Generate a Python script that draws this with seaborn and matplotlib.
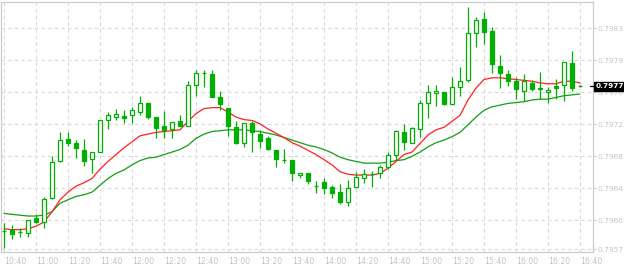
import matplotlib
matplotlib.use("Agg")
import matplotlib.pyplot as plt
import matplotlib.transforms as mtransforms
import seaborn as sns
import numpy as np
import pandas as pd

# ---------------- data (5-minute candles, 10:40 .. 16:40) ----------------
opens = [0.79593, 0.79594, 0.79591, 0.79590, 0.79608, 0.79603, 0.79631, 0.79675, 0.79700, 0.79696,
         0.79687, 0.79677, 0.79685, 0.79723, 0.79726, 0.79727, 0.79728, 0.79732, 0.79743, 0.79726,
         0.79716, 0.79712, 0.79721, 0.79716, 0.79764, 0.79778, 0.79777, 0.79749, 0.79737, 0.79714,
         0.79696, 0.79719, 0.79706, 0.79702, 0.79687, 0.79676, 0.79676, 0.79658, 0.79661, 0.79645,
         0.79650, 0.79644, 0.79638, 0.79626, 0.79644, 0.79655, 0.79659, 0.79660, 0.79667, 0.79681,
         0.79708, 0.79696, 0.79712, 0.79743, 0.79754, 0.79755, 0.79741, 0.79761, 0.79769, 0.79825,
         0.79841, 0.79827, 0.79786, 0.79776, 0.79768, 0.79756, 0.79766, 0.79760, 0.79755, 0.79762,
         0.79763, 0.79789, 0.79762]
highs = [0.79602, 0.79600, 0.79596, 0.79605, 0.79612, 0.79632, 0.79680, 0.79709, 0.79709, 0.79699,
         0.79700, 0.79685, 0.79722, 0.79732, 0.79735, 0.79734, 0.79738, 0.79751, 0.79743, 0.79726,
         0.79733, 0.79720, 0.79728, 0.79768, 0.79781, 0.79781, 0.79781, 0.79757, 0.79737, 0.79721,
         0.79719, 0.79721, 0.79711, 0.79704, 0.79687, 0.79689, 0.79676, 0.79661, 0.79661, 0.79651,
         0.79655, 0.79646, 0.79648, 0.79652, 0.79662, 0.79665, 0.79663, 0.79670, 0.79685, 0.79711,
         0.79718, 0.79714, 0.79746, 0.79764, 0.79764, 0.79755, 0.79773, 0.79785, 0.79855, 0.79843,
         0.79849, 0.79831, 0.79799, 0.79781, 0.79773, 0.79776, 0.79770, 0.79779, 0.79761, 0.79771,
         0.79790, 0.79803, 0.79763]
lows = [0.79572, 0.79583, 0.79586, 0.79585, 0.79602, 0.79596, 0.79630, 0.79673, 0.79692, 0.79678,
        0.79669, 0.79661, 0.79685, 0.79712, 0.79723, 0.79719, 0.79719, 0.79728, 0.79724, 0.79702,
        0.79701, 0.79701, 0.79716, 0.79716, 0.79751, 0.79761, 0.79749, 0.79734, 0.79704, 0.79695,
        0.79691, 0.79685, 0.79690, 0.79687, 0.79667, 0.79672, 0.79651, 0.79655, 0.79648, 0.79637,
        0.79636, 0.79631, 0.79624, 0.79622, 0.79644, 0.79649, 0.79644, 0.79655, 0.79665, 0.79676,
        0.79687, 0.79696, 0.79703, 0.79725, 0.79739, 0.79740, 0.79741, 0.79751, 0.79767, 0.79808,
        0.79812, 0.79778, 0.79760, 0.79762, 0.79747, 0.79745, 0.79757, 0.79747, 0.79743, 0.79747,
        0.79745, 0.79757, 0.79761]
closes = [0.79593, 0.79589, 0.79591, 0.79605, 0.79603, 0.79630, 0.79673, 0.79699, 0.79696, 0.79690,
          0.79675, 0.79685, 0.79722, 0.79728, 0.79730, 0.79725, 0.79734, 0.79742, 0.79726, 0.79713,
          0.79711, 0.79720, 0.79716, 0.79763, 0.79778, 0.79778, 0.79750, 0.79741, 0.79715, 0.79696,
          0.79719, 0.79708, 0.79698, 0.79689, 0.79677, 0.79676, 0.79660, 0.79661, 0.79651, 0.79645,
          0.79643, 0.79637, 0.79627, 0.79643, 0.79656, 0.79659, 0.79659, 0.79667, 0.79682, 0.79710,
          0.79697, 0.79713, 0.79743, 0.79755, 0.79757, 0.79741, 0.79761, 0.79768, 0.79824, 0.79840,
          0.79826, 0.79788, 0.79778, 0.79768, 0.79759, 0.79768, 0.79759, 0.79759, 0.79758, 0.79760,
          0.79790, 0.79760, 0.79762]
ma_fast = [0.79595, 0.79594, 0.79594, 0.79595, 0.79598, 0.79603, 0.79615, 0.79629, 0.79638, 0.79645,
           0.79649, 0.79654, 0.79665, 0.79674, 0.79682, 0.79690, 0.79697, 0.79704, 0.79706, 0.79708,
           0.79709, 0.79710, 0.79711, 0.79721, 0.79730, 0.79736, 0.79737, 0.79737, 0.79732, 0.79726,
           0.79723, 0.79722, 0.79718, 0.79712, 0.79707, 0.79702, 0.79696, 0.79692, 0.79687, 0.79682,
           0.79676, 0.79670, 0.79662, 0.79659, 0.79658, 0.79658, 0.79658, 0.79660, 0.79666, 0.79674,
           0.79682, 0.79685, 0.79695, 0.79705, 0.79711, 0.79714, 0.79721, 0.79728, 0.79746, 0.79760,
           0.79770, 0.79772, 0.79772, 0.79771, 0.79770, 0.79769, 0.79768, 0.79766, 0.79765, 0.79765,
           0.79768, 0.79768, 0.79766]
ma_slow = [0.79613, 0.79612, 0.79611, 0.79610, 0.79610, 0.79611, 0.79615, 0.79625, 0.79629, 0.79633,
           0.79635, 0.79638, 0.79646, 0.79654, 0.79660, 0.79664, 0.79670, 0.79675, 0.79678, 0.79679,
           0.79682, 0.79685, 0.79688, 0.79693, 0.79701, 0.79706, 0.79709, 0.79710, 0.79711, 0.79711,
           0.79711, 0.79710, 0.79709, 0.79707, 0.79705, 0.79702, 0.79699, 0.79696, 0.79693, 0.79691,
           0.79688, 0.79684, 0.79679, 0.79676, 0.79674, 0.79672, 0.79672, 0.79672, 0.79673, 0.79675,
           0.79676, 0.79680, 0.79685, 0.79691, 0.79696, 0.79699, 0.79703, 0.79708, 0.79717, 0.79726,
           0.79734, 0.79738, 0.79740, 0.79742, 0.79743, 0.79744, 0.79746, 0.79747, 0.79747, 0.79749,
           0.79751, 0.79752, 0.79753]
time_labels = ["10:40", "11:00", "11:20", "11:40", "12:00", "12:20", "12:40", "13:00", "13:20",
               "13:40", "14:00", "14:20", "14:40", "15:00", "15:20", "15:40", "16:00", "16:20", "16:40"]
price_ticks = [0.79830, 0.797925, 0.79755, 0.797175, 0.79680, 0.796425, 0.79605, 0.79571]
price_labels = ["0.7983", "0.7979", "0.7976", "0.7972", "0.7968", "0.7964", "0.7960", "0.7957"]
current_label = "0.7977"

# ---------------- styling ----------------
sns.set_style("white")
plt.rcParams['font.family'] = ['DejaVu Sans']

GREEN = "#00b000"
RED = "#ff2020"
MA_GREEN = "#10a010"
GRID = "#d8d8d8"
FRAME = "#cccccc"
TXT = "#c4c4c4"

W, H = 624, 266
fig = plt.figure(figsize=(W / 100, H / 100), dpi=100)
ax = fig.add_axes([1.3 / W, (H - 251.7) / H, (592.7 - 1.3) / W, (251.7 - 1.7) / H])

df = pd.DataFrame({"open": opens, "high": highs, "low": lows, "close": closes,
                   "fast": ma_fast, "slow": ma_slow})
df["idx"] = np.arange(len(df))

# grid
ax.set_xticks(np.arange(0, len(df), 4))
ax.set_xticklabels(time_labels, ha="left")
ax.set_yticks(price_ticks)
ax.set_yticklabels(price_labels)
ax.grid(True, color=GRID, linestyle=(0, (3, 3)), linewidth=0.8)
ax.set_axisbelow(True)

# moving averages
sns.lineplot(data=df, x="idx", y="slow", color=MA_GREEN, linewidth=0.9, ax=ax, zorder=2)
sns.lineplot(data=df, x="idx", y="fast", color=RED, linewidth=0.9, ax=ax, zorder=2)

# candles
ax.vlines(df["idx"], df["low"], df["high"], color=GREEN, linewidth=0.9, zorder=3)
bull = df["close"] >= df["open"]
body_lo = np.minimum(df["open"], df["close"])
body_h = np.abs(df["close"] - df["open"])
ax.bar(df["idx"][bull], body_h[bull], bottom=body_lo[bull], width=0.55,
       facecolor="white", edgecolor=GREEN, linewidth=0.9, zorder=4)
ax.bar(df["idx"][~bull], body_h[~bull], bottom=body_lo[~bull], width=0.55,
       facecolor=GREEN, edgecolor=GREEN, linewidth=0.9, zorder=4)

ax.set_xlim((1.3 - 4) / 8, (592.7 - 4) / 8)
ax.set_ylim(0.795682, 0.798612)
ax.set_xlabel("")
ax.set_ylabel("")

ax.yaxis.tick_right()
for s in ax.spines.values():
    s.set_color(FRAME)
    s.set_linewidth(0.9)
ax.tick_params(axis="both", colors=FRAME, labelcolor=TXT, labelsize=5.3, length=2.5, width=0.8,
               direction="out", pad=1)
ax.tick_params(axis="y", pad=0.8)
ax.tick_params(axis="x", labelsize=5.6)

# current price marker
last = df["close"].iloc[-1]
trans = mtransforms.blended_transform_factory(ax.transAxes, ax.transData)
ax.plot([0.995, 1.003], [last, last], color="black", linewidth=0.9, transform=trans,
        clip_on=False, zorder=6)
ax.text(1.0 + 3.0 / 591.4, last, current_label, transform=trans, va="center", ha="left",
        fontsize=5.3, color="white", fontweight="bold", zorder=7, clip_on=False,
        bbox=dict(boxstyle="square,pad=0.22", facecolor="black", edgecolor="black"))

fig.savefig("out.png", dpi=100)
